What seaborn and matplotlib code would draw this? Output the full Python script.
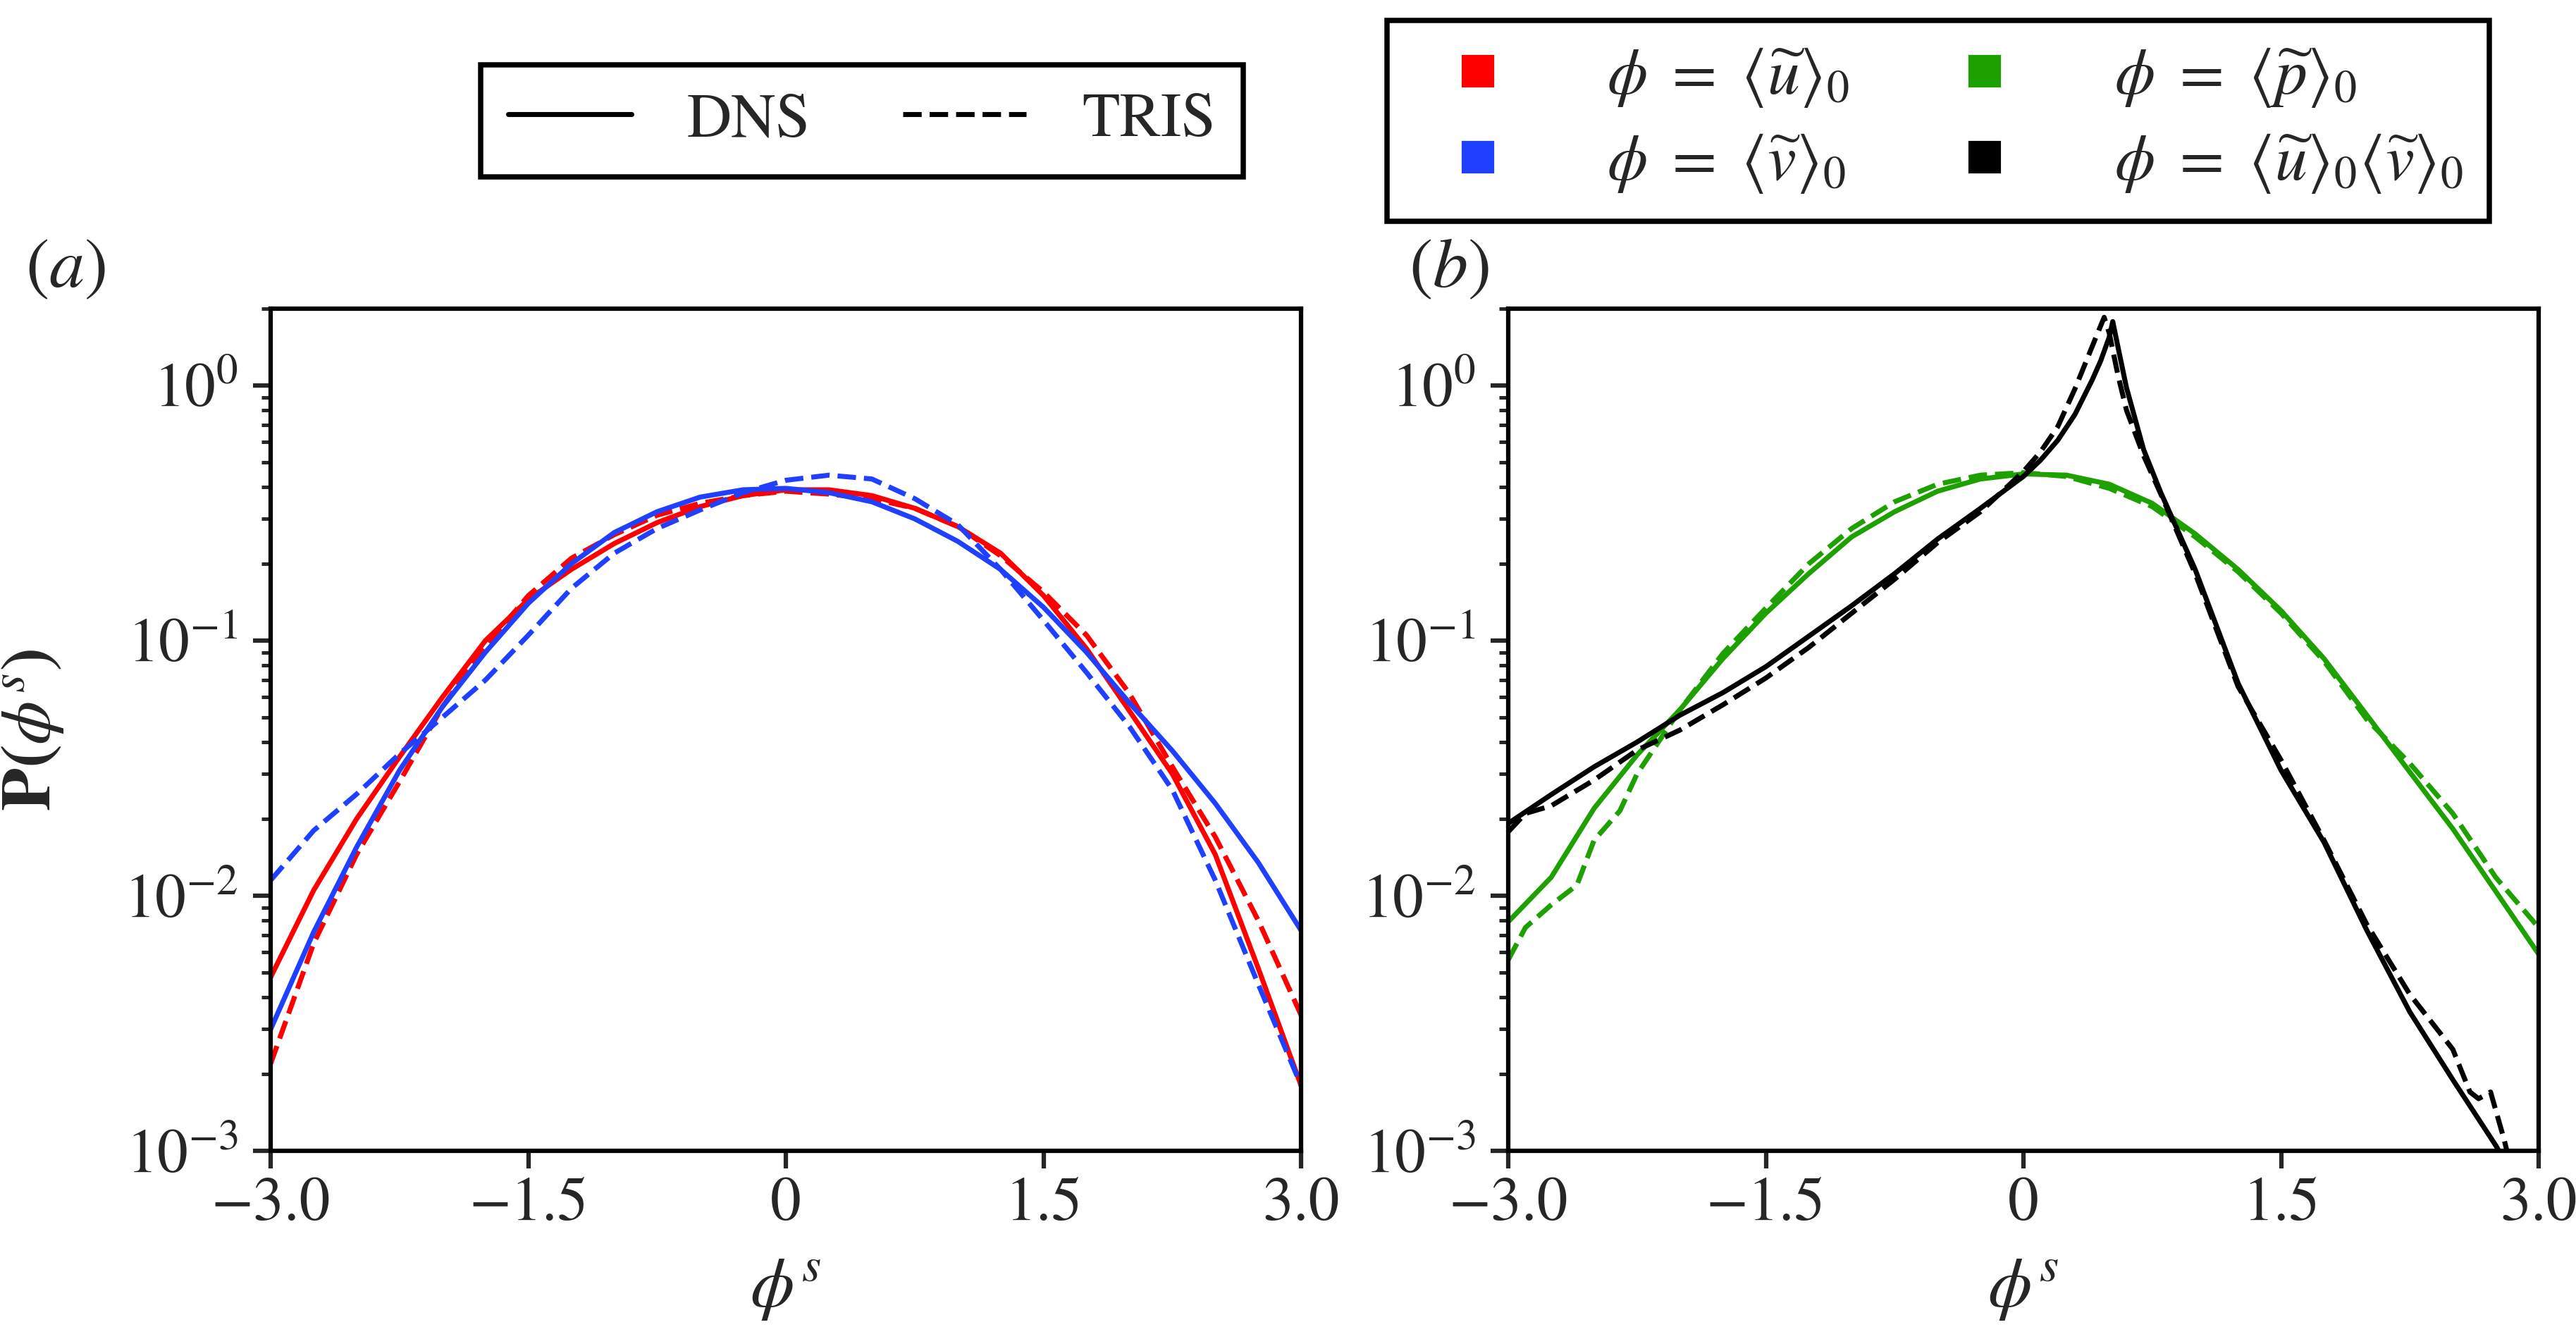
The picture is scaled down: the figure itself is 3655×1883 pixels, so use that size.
import numpy as np
import pandas as pd
import matplotlib
matplotlib.use('Agg')
import matplotlib.pyplot as plt
from matplotlib.lines import Line2D
import seaborn as sns

# panel (a): velocity PDFs
x_a = [-3.0, -2.75, -2.5, -2.25, -2.0, -1.75, -1.5, -1.25, -1.0, -0.75, -0.5, -0.25,
       0.0, 0.25, 0.5, 0.75, 1.0, 1.25, 1.5, 1.75, 2.0, 2.25, 2.5, 2.75, 3.0]
u_dns = [0.0048, 0.0105, 0.020, 0.035, 0.060, 0.10, 0.145, 0.19, 0.24, 0.29, 0.335, 0.37,
         0.39, 0.39, 0.37, 0.33, 0.28, 0.22, 0.15, 0.093, 0.053, 0.030, 0.0145, 0.0052, 0.0018]
u_tris = [0.0022, 0.0065, 0.0145, 0.028, 0.055, 0.095, 0.15, 0.21, 0.26, 0.31, 0.345, 0.37,
          0.385, 0.375, 0.36, 0.33, 0.28, 0.215, 0.155, 0.105, 0.062, 0.032, 0.017, 0.008, 0.0034]
v_dns = [0.0030, 0.0072, 0.0155, 0.031, 0.055, 0.09, 0.14, 0.20, 0.265, 0.32, 0.365, 0.39,
         0.395, 0.38, 0.35, 0.30, 0.245, 0.19, 0.135, 0.09, 0.057, 0.037, 0.023, 0.0135, 0.0073]
v_tris = [0.0115, 0.018, 0.025, 0.036, 0.050, 0.070, 0.105, 0.16, 0.22, 0.275, 0.325, 0.38,
          0.425, 0.445, 0.43, 0.36, 0.285, 0.19, 0.12, 0.075, 0.046, 0.026, 0.0115, 0.0045, 0.0018]

# panel (b): pressure and uv PDFs
x_p = x_a
p_dns = [0.0079, 0.0118, 0.022, 0.0356, 0.0536, 0.085, 0.128, 0.183, 0.255, 0.32, 0.385, 0.43,
         0.45, 0.445, 0.41, 0.345, 0.262, 0.19, 0.131, 0.085, 0.051, 0.0305, 0.0183, 0.0104, 0.0059]
x_p_tris = [-3.0, -2.9, -2.75, -2.6, -2.5, -2.35, -2.25, -2.0, -1.75, -1.5, -1.25, -1.0, -0.75,
            -0.5, -0.25, 0.0, 0.25, 0.5, 0.75, 1.0, 1.25, 1.5, 1.75, 2.0, 2.25, 2.5, 2.75, 3.0]
p_tris = [0.0056, 0.0075, 0.0092, 0.011, 0.0165, 0.0215, 0.030, 0.0535, 0.089, 0.134, 0.20, 0.275,
          0.35, 0.41, 0.445, 0.455, 0.44, 0.395, 0.335, 0.255, 0.186, 0.128, 0.083, 0.049, 0.033,
          0.021, 0.0118, 0.0075]
x_uv_dns = [-3.0, -2.75, -2.5, -2.25, -2.0, -1.75, -1.5, -1.25, -1.0, -0.75, -0.5, -0.25, 0.0,
            0.1, 0.2, 0.3, 0.4, 0.45, 0.5, 0.52, 0.55, 0.6, 0.7, 0.8, 1.0, 1.25, 1.5, 1.75, 2.0,
            2.25, 2.5, 2.75, 2.85]
uv_dns = [0.0192, 0.0249, 0.032, 0.040, 0.051, 0.0625, 0.079, 0.104, 0.137, 0.183, 0.25, 0.33,
          0.44, 0.51, 0.61, 0.77, 1.05, 1.25, 1.55, 1.78, 1.42, 0.98, 0.56, 0.38, 0.19, 0.068,
          0.031, 0.0162, 0.0073, 0.0035, 0.0019, 0.00105, 0.0008]
x_uv_tris = [-3.0, -2.9, -2.75, -2.5, -2.25, -2.0, -1.75, -1.5, -1.25, -1.0, -0.75, -0.5, -0.25,
             0.0, 0.1, 0.2, 0.3, 0.4, 0.47, 0.5, 0.55, 0.6, 0.7, 0.8, 1.0, 1.25, 1.5, 1.75, 2.0,
             2.25, 2.5, 2.6, 2.65, 2.72, 2.8, 2.85]
uv_tris = [0.0178, 0.021, 0.0225, 0.0284, 0.0372, 0.0446, 0.056, 0.0713, 0.094, 0.128, 0.174,
           0.242, 0.32, 0.46, 0.55, 0.69, 0.97, 1.42, 1.85, 1.6, 1.1, 0.8, 0.53, 0.375, 0.183,
           0.066, 0.034, 0.0165, 0.0077, 0.0041, 0.0025, 0.0017, 0.0016, 0.0017, 0.0011, 0.0008]

x_ticks = [-3.0, -1.5, 0.0, 1.5, 3.0]
x_tick_labels = ['\u22123.0', '\u22121.5', '0', '1.5', '3.0']

RED = '#ff0000'
BLUE = '#2040ff'
GREEN = '#1ea000'
BLACK = '#000000'

sns.set_style('ticks')
plt.rcParams['font.family'] = ['STIXGeneral', 'DejaVu Serif']
plt.rcParams['mathtext.fontset'] = 'stix'
plt.rcParams['axes.linewidth'] = 1.5
plt.rcParams['axes.unicode_minus'] = True

LW = 1.7


def draw_curve(ax, x, y, color, ls):
    df = pd.DataFrame({'x': x, 'y': y})
    sns.lineplot(data=df, x='x', y='y', ax=ax, color=color, linestyle=ls,
                 linewidth=LW, errorbar=None, sort=True)


def style_axis(ax):
    ax.set_yscale('log')
    ax.set_xlim(-3.0, 3.0)
    ax.set_ylim(1e-3, 2.0)
    ax.set_xticks(x_ticks)
    ax.set_xticklabels(x_tick_labels)
    ax.tick_params(which='major', direction='out', length=6, width=1.5, labelsize=21,
                   top=False, right=False)
    ax.tick_params(axis='x', which='major', pad=3)
    ax.tick_params(axis='y', which='major', pad=5)
    ax.tick_params(which='minor', direction='out', length=3.2, width=1.2,
                   top=False, right=False)
    ax.tick_params(axis='x', which='minor', bottom=False)
    for s in ax.spines.values():
        s.set_visible(True)
        s.set_linewidth(1.5)
        s.set_color('k')
    ax.set_xlabel(r'$\phi^s$', fontsize=24)
    ax.xaxis.label.set_va('center')
    ax.xaxis.set_label_coords(0.5, -0.165)
    ax.set_ylabel('')


fig = plt.figure(figsize=(3655 / 300, 1883 / 300), dpi=300)
ax_a = fig.add_axes([0.1051, 0.1328, 0.4000, 0.6346])
ax_b = fig.add_axes([0.5855, 0.1328, 0.4000, 0.6346])

draw_curve(ax_a, x_a, u_dns, RED, '-')
draw_curve(ax_a, x_a, u_tris, RED, '--')
draw_curve(ax_a, x_a, v_dns, BLUE, '-')
draw_curve(ax_a, x_a, v_tris, BLUE, '--')

draw_curve(ax_b, x_p, p_dns, GREEN, '-')
draw_curve(ax_b, x_p_tris, p_tris, GREEN, '--')
draw_curve(ax_b, x_uv_dns, uv_dns, BLACK, '-')
draw_curve(ax_b, x_uv_tris, uv_tris, BLACK, '--')

style_axis(ax_a)
style_axis(ax_b)

ax_a.set_ylabel(r'$\mathbf{P(}\phi^s\mathbf{)}$', fontsize=24)
ax_a.yaxis.set_label_coords(-0.199, 0.5)

fig.text(0.0098, 0.796, r'$(a)$', fontsize=24, ha='left', va='center')
fig.text(0.547, 0.796, r'$(b)$', fontsize=24, ha='left', va='center')

# line style legend
style_handles = [Line2D([], [], color='k', lw=LW, ls='-'),
                 Line2D([], [], color='k', lw=LW, ls='--')]
leg1 = fig.legend(style_handles, ['DNS', 'TRIS'], ncol=2, loc='center',
                  bbox_to_anchor=(0.3346, 0.9087), fontsize=21, frameon=True,
                  fancybox=False, edgecolor='k', framealpha=1, handlelength=2.0,
                  handletextpad=0.9, columnspacing=1.5, borderpad=0.45)
leg1.get_frame().set_linewidth(1.8)

# colour legend
colour_handles = [Line2D([], [], color=c, marker='s', ls='none', markersize=10)
                  for c in [RED, BLUE, GREEN, BLACK]]
colour_labels = [r'$\phi\ =\ \langle\widetilde{u}\rangle_0$',
                 r'$\phi\ =\ \langle\widetilde{v}\rangle_0$',
                 r'$\phi\ =\ \langle\widetilde{p}\rangle_0$',
                 r'$\phi\ =\ \langle\widetilde{u}\rangle_0\langle\widetilde{v}\rangle_0$']
leg2 = fig.legend(colour_handles, colour_labels, ncol=2, loc='center',
                  bbox_to_anchor=(0.7524, 0.909), fontsize=22, frameon=True,
                  fancybox=False, edgecolor='k', framealpha=1, handlelength=2.0,
                  handletextpad=1.0, columnspacing=1.1, labelspacing=0.35, borderpad=0.4)
leg2.get_frame().set_linewidth(1.8)

fig.savefig('out.png', dpi=300)
plt.close(fig)
